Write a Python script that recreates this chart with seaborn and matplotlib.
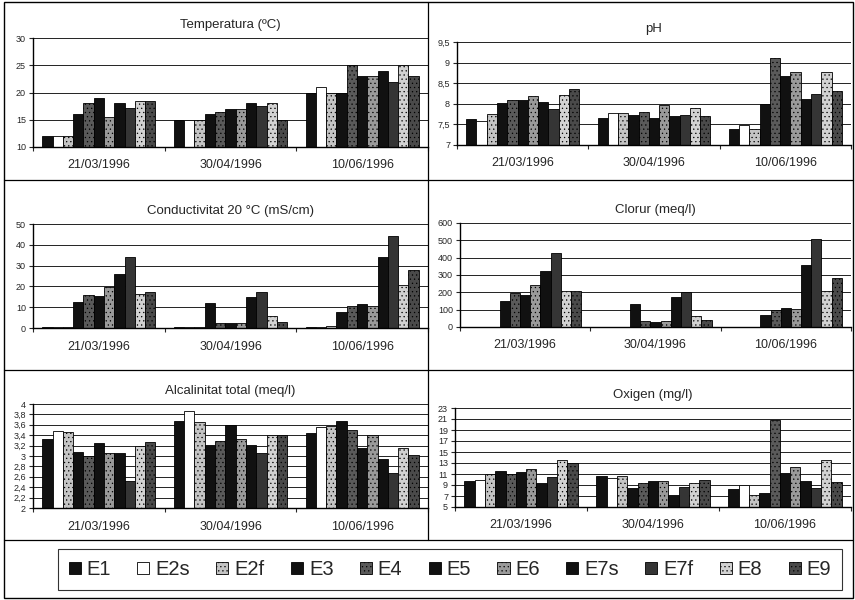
import numpy as np
import pandas as pd
import matplotlib
matplotlib.use("Agg")
import matplotlib.pyplot as plt
from matplotlib.patches import Patch, Rectangle
from matplotlib.lines import Line2D
from matplotlib.ticker import FuncFormatter
import seaborn as sns

dates = ["21/03/1996", "30/04/1996", "10/06/1996"]
stations = ["E1", "E2s", "E2f", "E3", "E4", "E5", "E6", "E7s", "E7f", "E8", "E9"]

temperatura = [
    [12, 12, 12, 16, 18, 19, 15.5, 18, 17.2, 18.5, 18.5],
    [15, 15, 15, 16, 16.5, 17, 17, 18, 17.5, 18, 15],
    [20, 21, 20, 20, 25, 23, 23, 24, 22, 25, 23],
]
ph = [
    [7.62, 7.58, 7.75, 8.03, 8.1, 8.1, 8.2, 8.05, 7.88, 8.22, 8.37],
    [7.65, 7.78, 7.78, 7.73, 7.8, 7.65, 7.97, 7.7, 7.73, 7.9, 7.7],
    [7.4, 7.48, 7.4, 8.0, 9.12, 8.67, 8.78, 8.12, 8.25, 8.78, 8.32],
]
conductivitat = [
    [0.3, 0.3, 0.3, 12.5, 16, 15.5, 19.5, 26, 34, 16.5, 17.5],
    [0.5, 0.5, 0.5, 12, 2.5, 2.2, 2.2, 15, 17.5, 6, 3],
    [0.5, 0.5, 0.8, 7.5, 10.5, 11.5, 10.5, 34, 44, 20.5, 28],
]
clorur = [
    [2, 2, 2, 150, 195, 185, 240, 325, 425, 205, 210],
    [2, 2, 2, 135, 35, 30, 35, 175, 200, 65, 40],
    [2, 2, 2, 70, 100, 110, 105, 360, 505, 205, 285],
]
alcalinitat = [
    [3.32, 3.48, 3.46, 3.08, 3.0, 3.25, 3.05, 3.06, 2.52, 3.2, 3.27],
    [3.67, 3.87, 3.65, 3.22, 3.28, 3.6, 3.32, 3.22, 3.05, 3.4, 3.4],
    [3.44, 3.55, 3.58, 3.67, 3.5, 3.15, 3.4, 2.95, 2.68, 3.15, 3.02],
]
oxigen = [
    [9.7, 10.0, 11.0, 11.5, 11.0, 11.4, 11.9, 9.4, 10.5, 13.5, 13.0],
    [10.7, 10.3, 10.7, 8.4, 9.4, 9.8, 9.7, 7.2, 8.7, 9.3, 10.0],
    [8.3, 9.0, 7.2, 7.6, 20.8, 11.2, 12.2, 9.8, 8.4, 13.6, 9.6],
]

titles = ["Temperatura (ºC)", "pH", "Conductivitat 20 °C (mS/cm)",
          "Clorur (meq/l)", "Alcalinitat total (meq/l)", "Oxigen (mg/l)"]
datasets = [temperatura, ph, conductivitat, clorur, alcalinitat, oxigen]
yticks = [
    np.arange(10, 31, 5),
    np.arange(7, 9.51, 0.5),
    np.arange(0, 51, 10),
    np.arange(0, 601, 100),
    np.arange(2, 4.01, 0.2),
    np.arange(5, 23.1, 2),
]

colors = ["#111111", "#ffffff", "#c4c4c4", "#111111", "#5a5a5a", "#111111",
          "#9a9a9a", "#111111", "#353535", "#d2d2d2", "#4a4a4a"]
hatches = ["", "", "....", "", "....", "", "....", "", "", "....", "...."]

sns.set_theme(style="white")
plt.rcParams["font.family"] = ["Liberation Sans", "DejaVu Sans"]
plt.rcParams["hatch.linewidth"] = 0.4
plt.rcParams["hatch.color"] = "#333333"

fig = plt.figure(figsize=(8.55, 6.0), dpi=100)

W, H = 855.0, 600.0
# (left_px, top_px, right_px, bottom_px)
boxes = [
    (33, 38, 428, 147),
    (457, 42, 851, 145),
    (33, 224, 428, 328),
    (460, 223, 851, 327),
    (33, 404, 428, 508),
    (455, 408, 851, 507),
]

def fmt(v, pos):
    s = ("%.1f" % v).rstrip("0").rstrip(".")
    return s.replace(".", ",")

for i, (data, title, ticks, box) in enumerate(zip(datasets, titles, yticks, boxes)):
    l, t, r, b = box
    ax = fig.add_axes([l / W, 1 - b / H, (r - l) / W, (b - t) / H])
    rows = []
    for di, d in enumerate(dates):
        for si, s in enumerate(stations):
            rows.append({"date": d, "station": s, "value": data[di][si]})
    df = pd.DataFrame(rows)
    sns.barplot(data=df, x="date", y="value", hue="station", hue_order=stations,
                order=dates, palette=colors, width=0.86, edgecolor="black",
                linewidth=0.6, saturation=1, ax=ax, legend=False)
    for cont, h in zip(ax.containers, hatches):
        for p in cont.patches:
            p.set_hatch(h)
    ax.set_ylim(ticks[0], ticks[-1])
    ax.set_yticks(ticks)
    ax.yaxis.set_major_formatter(FuncFormatter(fmt))
    ax.set_xlim(-0.5, 2.5)
    ax.set_xlabel("")
    ax.set_ylabel("")
    ax.grid(axis="y", color="#222222", linewidth=0.7)
    ax.set_axisbelow(True)
    for sp in ["top", "right"]:
        ax.spines[sp].set_visible(False)
    for sp in ["left", "bottom"]:
        ax.spines[sp].set_color("black")
        ax.spines[sp].set_linewidth(1.0)
    ax.tick_params(axis="y", labelsize=6.5, length=3, width=0.8, pad=2, left=True)
    ax.tick_params(axis="x", labelsize=9, length=0, pad=9)
    ax.set_xticks([-0.5, 0.5, 1.5, 2.5], minor=True)
    ax.tick_params(axis="x", which="minor", length=3, width=0.8, bottom=True)
    ax.set_title(title, fontsize=9.5, pad=7)

# Panel frame lines
fig.add_artist(Rectangle((4 / W, 1 - 598 / H), (853 - 4) / W, (598 - 2) / H,
                         transform=fig.transFigure, fill=False, edgecolor="black", linewidth=1.0))
for ypx in [180, 370, 540]:
    fig.add_artist(Line2D([4 / W, 853 / W], [1 - ypx / H, 1 - ypx / H],
                          transform=fig.transFigure, color="black", linewidth=0.9))
fig.add_artist(Line2D([428 / W, 428 / W], [1 - 540 / H, 1 - 2 / H],
                      transform=fig.transFigure, color="black", linewidth=0.9))

handles = [Patch(facecolor=c, edgecolor="black", hatch=h, linewidth=0.6)
           for c, h in zip(colors, hatches)]
leg = fig.legend(handles, stations, loc="center", ncol=11,
                 bbox_to_anchor=(450 / W, 1 - 569.5 / H), frameon=True, fontsize=14.5,
                 handlelength=0.6, handleheight=0.6, handletextpad=0.3,
                 columnspacing=1.3, borderpad=0.55, fancybox=False)
leg.get_frame().set_edgecolor("black")
leg.get_frame().set_linewidth(0.8)

fig.savefig("out.png", dpi=100)
